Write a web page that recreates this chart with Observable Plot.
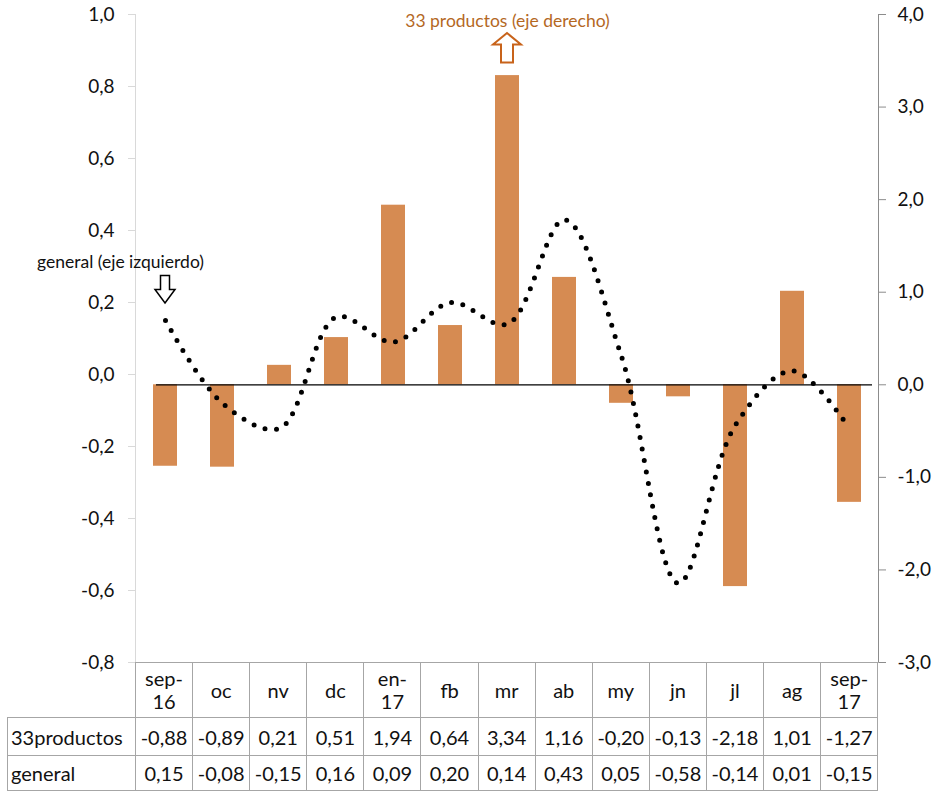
<!DOCTYPE html>
<html>
<head>
<meta charset="utf-8">
<script src="https://cdn.jsdelivr.net/npm/d3@7"></script>
<script src="https://cdn.jsdelivr.net/npm/@observablehq/plot@0.6"></script>
<style>
  body { margin: 0; background: #fff; font-family: Lato, "Open Sans", sans-serif; }
  #chart { position: relative; width: 932px; height: 792px; }
  #chart svg { position: absolute; left: 0; top: 0; }
  #tbl { position: absolute; left: 7px; top: 662px; border-collapse: collapse; table-layout: fixed;
         width: 870px; font-size: 20px; color: #111; }
  #tbl td { border: 1px solid #a6a6a6; text-align: center; padding: 0; white-space: nowrap; }
  #tbl td.lbl { text-align: left; padding-left: 3px; }
  #tbl td.blank { border-top: none; border-left: none; }
  #tbl tr.head td { height: 54px; line-height: 23px; }
  #tbl tr.r1 td { height: 37px; }
  #tbl tr.r2 td { height: 34px; }
</style>
</head>
<body>
<div id="chart"></div>
<script>
const months = ["sep-16", "oc", "nv", "dc", "en-17", "fb", "mr", "ab", "my", "jn", "jl", "ag", "sep-17"];
const productos33 = [-0.88, -0.89, 0.21, 0.51, 1.94, 0.64, 3.34, 1.16, -0.20, -0.13, -2.18, 1.01, -1.27];
const general = [0.15, -0.08, -0.15, 0.16, 0.09, 0.20, 0.14, 0.43, 0.05, -0.58, -0.14, 0.01, -0.15];
const leftTicks = [-0.8, -0.6, -0.4, -0.2, 0, 0.2, 0.4, 0.6, 0.8, 1.0];
const rightTicks = [-3, -2, -1, 0, 1, 2, 3, 4];
const rowNames = ["33productos", "general"];
const notes = ["general (eje izquierdo)", "33 productos (eje derecho)"];

// right axis (-3..4) mapped onto the left one (-0.8..1.0)
const toLeft = (r) => -0.8 + ((r + 3) * 1.8) / 7;
const fromLeft = (y) => ((y + 0.8) * 7) / 1.8 - 3;
const fmt1 = (v) => (Math.round(v * 10) / 10).toFixed(1).replace(".", ",");
const fmt2 = (v) => v.toFixed(2).replace(".", ",");

const rows = months.map((m, i) => ({ month: m, p33: productos33[i], gen: general[i] }));

function arrowPath(x, tip, dir, len, head, hw, sw) {
  const hb = tip - dir * head, tail = tip - dir * len;
  return `M${x},${tip}L${x + hw},${hb}L${x + sw},${hb}L${x + sw},${tail}L${x - sw},${tail}L${x - sw},${hb}L${x - hw},${hb}Z`;
}

const plot = Plot.plot({
  width: 932,
  height: 676,
  marginTop: 14,
  marginBottom: 14,
  marginLeft: 135,
  marginRight: 54,
  style: { fontFamily: "Lato, sans-serif", fontSize: "19px", color: "#111", background: "transparent" },
  x: { type: "band", domain: months, paddingInner: 0.58, paddingOuter: 0.29, axis: null },
  y: { domain: [-0.8, 1.0], axis: null },
  marks: [
    Plot.frame({ anchor: "left", stroke: "#d9d9d9" }),
    Plot.frame({ anchor: "right", stroke: "#8c8c8c" }),
    Plot.frame({ anchor: "bottom", stroke: "#a6a6a6" }),
    Plot.axisY(leftTicks, {
      anchor: "left", label: null, tickSize: 7, tickPadding: 14, tickFormat: fmt1,
      stroke: "#d9d9d9", fill: "#111", fontSize: 19
    }),
    Plot.axisY(rightTicks.map(toLeft), {
      anchor: "right", label: null, tickSize: 7, tickPadding: 12, tickFormat: (d) => fmt1(fromLeft(d)),
      stroke: "#8c8c8c", fill: "#111", fontSize: 19
    }),
    Plot.barY(rows, { x: "month", y1: () => toLeft(0), y2: (d) => toLeft(d.p33), fill: "#d68b52" }),
    Plot.ruleY([toLeft(0)], { stroke: "#000", strokeWidth: 1.2, insetLeft: 21, insetRight: 6 }),
    Plot.line(rows, {
      x: "month", y: "gen", curve: "catmull-rom", stroke: "#000",
      strokeWidth: 5, strokeLinecap: "round", strokeDasharray: "0 11.6"
    }),
    Plot.text([notes[0]], { x: () => months[0], y: () => 0.311, dx: -45, text: (d) => d, fontSize: 17.5, fill: "#111" }),
    Plot.text([notes[1]], { x: () => "mr", y: () => 0.98, text: (d) => d, fontSize: 17.5, fill: "#b4681f" }),
    (index, { x, y }) => {
      const bw = typeof x.bandwidth === "function" ? x.bandwidth() : 0;
      const cx = (m) => x(m) + bw / 2;
      const g = d3.create("svg:g").attr("fill", "#fff");
      g.append("path")
        .attr("d", arrowPath(cx(months[0]), y(general[0]) - 17, 1, 27.5, 13.5, 10, 4.5))
        .attr("stroke", "#000").attr("stroke-width", 1.5);
      g.append("path")
        .attr("d", arrowPath(cx("mr"), y(toLeft(productos33[6])) - 42, -1, 29.5, 11.5, 14, 6))
        .attr("stroke", "#c8631a").attr("stroke-width", 2);
      return g.node();
    }
  ]
});

const chart = document.querySelector("#chart");
chart.append(plot);

// data table below the plot
const table = document.createElement("table");
table.id = "tbl";
const cols = document.createElement("colgroup");
cols.innerHTML = `<col style="width:128px">` + months.map(() => `<col style="width:57.1px">`).join("");
table.append(cols);
const head = table.insertRow();
head.className = "head";
head.insertCell().className = "blank";
for (const m of months) {
  const c = head.insertCell();
  c.innerHTML = /\d/.test(m) ? m.replace("-", "-<br>") : m;
}
[productos33, general].forEach((vals, k) => {
  const tr = table.insertRow();
  tr.className = k === 0 ? "r1" : "r2";
  const l = tr.insertCell();
  l.className = "lbl";
  l.textContent = rowNames[k];
  for (const v of vals) tr.insertCell().textContent = fmt2(v);
});
chart.append(table);
</script>
</body>
</html>
